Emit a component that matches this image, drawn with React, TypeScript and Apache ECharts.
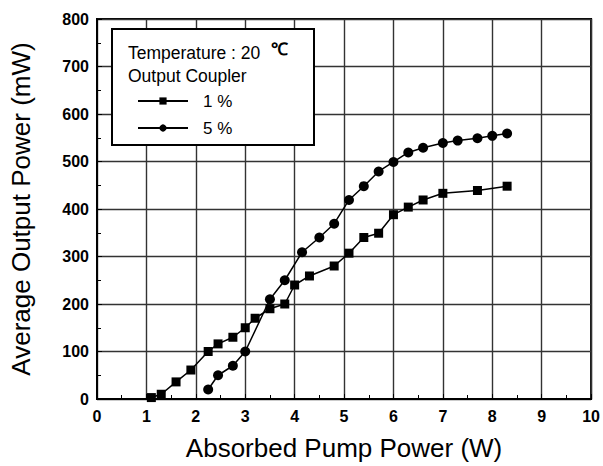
import React, { useEffect, useRef } from "react";
import * as echarts from "echarts";

const pump1 = [1.1, 1.3, 1.6, 1.9, 2.25, 2.45, 2.75, 3.0, 3.2, 3.5, 3.8, 4.0, 4.3, 4.8, 5.1, 5.4, 5.7, 6.0, 6.3, 6.6, 7.0, 7.7, 8.3];
const out1 = [3, 10, 36, 61, 100, 116, 130, 150, 170, 190, 200, 240, 259, 280, 307, 340, 349, 388, 404, 419, 433, 439, 448];
const pump5 = [2.25, 2.45, 2.75, 3.0, 3.5, 3.8, 4.15, 4.5, 4.8, 5.1, 5.4, 5.7, 6.0, 6.3, 6.6, 7.0, 7.3, 7.7, 8.0, 8.3];
const out5 = [20, 50, 70, 100, 210, 250, 309, 340, 369, 419, 448, 479, 499, 519, 529, 539, 544, 549, 554, 559];

const seriesNames = ["1 %", "5 %"];
const legendTitle = "Temperature : 20 ";
const legendUnit = "℃";
const legendSub = "Output Coupler";
const xTitle = "Absorbed Pump Power (W)";
const yTitle = "Average Output Power (mW)";

const FONT = "'Liberation Sans', Arial, sans-serif";

export default function App() {
  const ref = useRef<HTMLDivElement>(null);
  useEffect(() => {
    if (!ref.current) return;
    const chart = echarts.init(ref.current, undefined, { renderer: "svg" });
    const zip = (xs: number[], ys: number[]) => xs.map((x, i) => [x, ys[i]]);
    chart.setOption({
      animation: false,
      backgroundColor: "#fff",
      textStyle: { fontFamily: FONT, color: "#000" },
      grid: {
        left: 97,
        right: 9,
        top: 19,
        bottom: 67,
        show: true,
        borderColor: "#000",
        borderWidth: 2,
        backgroundColor: "transparent",
      },
      xAxis: {
        type: "value",
        min: 0,
        max: 10,
        interval: 1,
        name: xTitle,
        nameLocation: "middle",
        nameGap: 36,
        nameTextStyle: { fontSize: 26, color: "#000", fontFamily: FONT },
        axisLine: { show: true, lineStyle: { color: "#000", width: 2 } },
        axisTick: { show: true, inside: true, length: 5, lineStyle: { color: "#000" } },
        minorTick: { show: true, splitNumber: 2, length: 4, lineStyle: { color: "#000" } },
        axisLabel: { fontSize: 16, fontWeight: "bold", color: "#000", margin: 9, fontFamily: FONT },
        splitLine: { show: true, lineStyle: { color: "#333", width: 1.4 } },
      },
      yAxis: {
        type: "value",
        min: 0,
        max: 800,
        interval: 100,
        name: yTitle,
        nameLocation: "middle",
        nameGap: 63,
        nameRotate: 90,
        nameTextStyle: { fontSize: 26, color: "#000", fontFamily: FONT },
        axisLine: { show: true, lineStyle: { color: "#000", width: 2 } },
        axisTick: { show: true, inside: true, length: 5, lineStyle: { color: "#000" } },
        minorTick: { show: true, splitNumber: 2, length: 4, lineStyle: { color: "#000" } },
        axisLabel: { fontSize: 16, fontWeight: "bold", color: "#000", margin: 8, fontFamily: FONT },
        splitLine: { show: true, lineStyle: { color: "#333", width: 1.4 } },
      },
      legend: {
        show: true,
        orient: "vertical",
        left: 137,
        top: 92,
        padding: 0,
        z: 10,
        itemWidth: 50,
        itemHeight: 9,
        itemGap: 9,
        data: seriesNames,
        textStyle: { fontSize: 17, lineHeight: 18, color: "#000", fontFamily: FONT, padding: [0, 0, 0, 10] },
      },
      graphic: [
        {
          type: "rect",
          z: 8,
          shape: { x: 112, y: 29, width: 202, height: 116 },
          style: { fill: "#fff", stroke: "#000", lineWidth: 2 },
        },
        {
          type: "text",
          z: 10,
          left: 128,
          top: 41,
          style: {
            text: legendTitle + "{u|" + legendUnit + "}",
            fontSize: 17.5,
            fontFamily: FONT,
            fill: "#000",
            rich: { u: { fontSize: 17, fontWeight: "bold", verticalAlign: "top", fontFamily: FONT, fill: "#000", padding: [0, 0, 6, 6] } },
          },
        },
        {
          type: "text",
          z: 10,
          left: 128,
          top: 67,
          style: { text: legendSub, fontSize: 17.5, fontFamily: FONT, fill: "#000" },
        },
      ],
      series: [
        {
          name: seriesNames[0],
          type: "line",
          data: zip(pump1, out1),
          symbol: "rect",
          symbolSize: 9,
          lineStyle: { color: "#000", width: 1.5 },
          itemStyle: { color: "#000" },
          z: 3,
        },
        {
          name: seriesNames[1],
          type: "line",
          data: zip(pump5, out5),
          symbol: "circle",
          symbolSize: 10,
          lineStyle: { color: "#000", width: 1.5 },
          itemStyle: { color: "#000" },
          z: 3,
        },
      ],
    });
    return () => chart.dispose();
  }, []);
  return <div ref={ref} style={{ width: 603, height: 466, position: "absolute", left: 0, top: 0 }} />;
}
